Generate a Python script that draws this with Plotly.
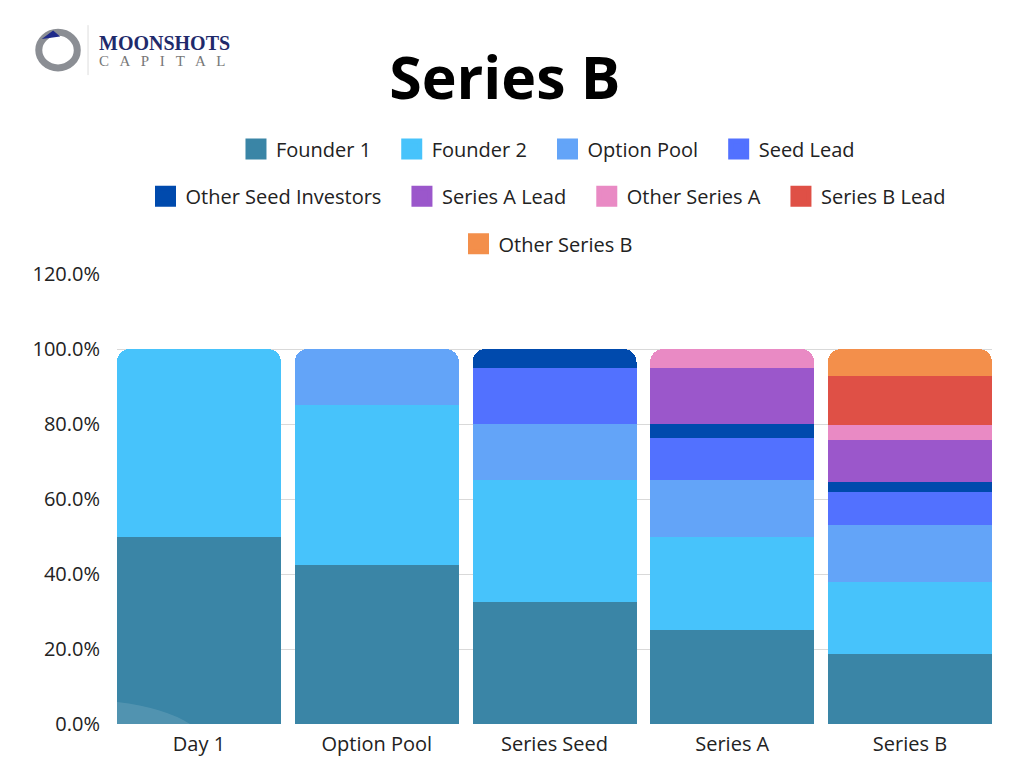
import plotly.graph_objects as go

# cap table by round (% ownership)
stages = ["Day 1", "Option Pool", "Series Seed", "Series A", "Series B"]

founder_1 = [50, 42.5, 32.5, 25, 18.75]
founder_2 = [50, 42.5, 32.5, 25, 19.25]
option_pool = [0, 15, 15, 15, 15]
seed_lead = [0, 0, 15, 11.25, 8.75]
other_seed = [0, 0, 5, 3.75, 2.75]
series_a_lead = [0, 0, 0, 15, 11.25]
other_series_a = [0, 0, 0, 5, 4]
series_b_lead = [0, 0, 0, 0, 13]
other_series_b = [0, 0, 0, 0, 7.25]

y_ticks = [0, 20, 40, 60, 80, 100, 120]

names = ["Founder 1", "Founder 2", "Option Pool", "Seed Lead", "Other Seed Investors",
         "Series A Lead", "Other Series A", "Series B Lead", "Other Series B"]
series = [founder_1, founder_2, option_pool, seed_lead, other_seed,
          series_a_lead, other_series_a, series_b_lead, other_series_b]
colors = ["#3a85a6", "#47c3fb", "#63a4f8", "#5271ff", "#004aad",
          "#9b57cb", "#e98ac4", "#df5046", "#f38f4b"]
legend_rows = ["legend", "legend", "legend", "legend",
               "legend2", "legend2", "legend2", "legend2", "legend3"]

FONT = "Open Sans"
GAP = 0.0774  # bars nearly touch the plot edges

fig = go.Figure()

for name, vals, col in zip(names, series, colors):
    fig.add_trace(go.Bar(x=stages, y=vals, name=name, marker_color=col,
                         marker_line_width=0, showlegend=False))

# legend entries with big square swatches
for name, col, lg in zip(names, colors, legend_rows):
    fig.add_trace(go.Scatter(x=[None], y=[None], mode="markers",
                             name=name + "\u00a0\u00a0\u00a0",
                             marker=dict(symbol="square", size=16, color=col,
                                         line=dict(color=col, width=5)),
                             legend=lg))

leg = dict(orientation="h", xanchor="center", yanchor="middle", x=0.5017,
           traceorder="normal",
           font=dict(family=FONT, size=20, color="#222"), bgcolor="rgba(0,0,0,0)")

# page body adds an 8px offset, so the figure is 8px smaller than the window
fig.update_layout(
    width=1016, height=760,
    paper_bgcolor="white", plot_bgcolor="white",
    margin=dict(l=109, r=32, t=266, b=44, autoexpand=False),
    barmode="stack", bargap=GAP, barcornerradius=13,
    font=dict(family=FONT, size=20, color="#222"),
    legend=dict(leg, y=1.278),
    legend2=dict(leg, y=1.173),
    legend3=dict(leg, y=1.067),
    title=dict(text="<b>Series B</b>", x=0.489, xanchor="center", y=0.908, yanchor="middle",
               font=dict(family=FONT, size=59, color="#000")),
    xaxis=dict(range=[-0.5 + GAP / 2, len(stages) - 0.5 - GAP / 2],
               showgrid=False, showline=False, ticks="", ticklabelstandoff=6,
               tickfont=dict(family=FONT, size=20, color="#222")),
    yaxis=dict(range=[0, 120], tickmode="array", tickvals=y_ticks,
               ticktext=[f"{v:.1f}%" for v in y_ticks],
               showgrid=True, gridcolor="#d9d9d9",
               gridwidth=1, zeroline=False, showline=False, ticklabelstandoff=16,
               tickfont=dict(family=FONT, size=20, color="#222")),
    shapes=[
        # faint decorative arc at the foot of the first bar
        dict(type="path", xref="paper", yref="paper", layer="above", line_width=0,
             path="M 0,0.049 Q 0.055,0.036 0.0834,0 L 0,0 Z",
             fillcolor="rgba(255,255,255,0.12)"),
        # logo mark
        dict(type="circle", xref="paper", yref="paper", x0=-0.0894, x1=-0.0454,
             y0=1.458, y1=1.537, line=dict(color="#8b8e94", width=7)),
        dict(type="path", xref="paper", yref="paper", line_width=0, fillcolor="#1f2a8a",
             path="M -0.086,1.522 L -0.073,1.541 L -0.065,1.528 Z"),
        dict(type="line", xref="paper", yref="paper", x0=-0.0331, x1=-0.0331,
             y0=1.442, y1=1.553, line=dict(color="#dddddd", width=1)),
    ],
    annotations=[
        dict(text="<b>MOONSHOTS</b>", xref="paper", yref="paper", x=-0.0229, y=1.513,
             xanchor="left", yanchor="middle", showarrow=False,
             font=dict(family="Liberation Serif", size=20, color="#1f2a6b")),
        dict(text="C   A   P   I   T   A   L", xref="paper", yref="paper", x=-0.0229,
             y=1.474, xanchor="left", yanchor="middle", showarrow=False,
             font=dict(family="Liberation Serif", size=15, color="#777")),
    ],
)

fig.write_html("out.html")
